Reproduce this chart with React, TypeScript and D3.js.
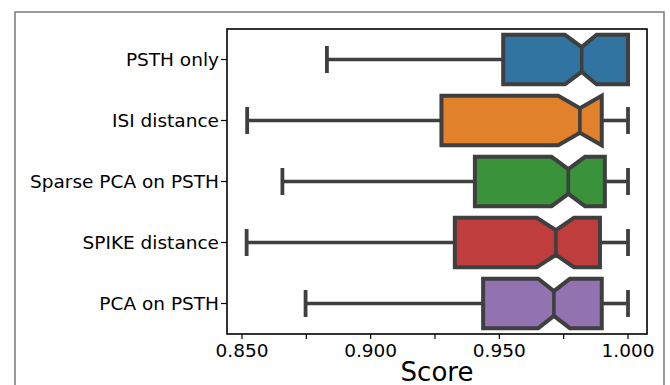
import React from "react";
import * as d3 from "d3";

const categories = ["PSTH only", "ISI distance", "Sparse PCA on PSTH", "SPIKE distance", "PCA on PSTH"];
const whiskerLow = [0.883, 0.852, 0.8657, 0.8518, 0.8747];
const q1 = [0.9515, 0.9275, 0.9405, 0.9327, 0.9437];
const median = [0.982, 0.9813, 0.9768, 0.972, 0.9712];
const q3 = [1.0, 0.9898, 0.991, 0.9891, 0.9898];
const whiskerHigh = [1.0, 1.0, 1.0, 1.0, 1.0];
const notchLow = [0.9755, 0.9729, 0.9703, 0.9645, 0.9651];
const notchHigh = [0.9878, 0.9898, 0.9833, 0.979, 0.9774];
const colors = ["#3274a1", "#e1812c", "#3a923a", "#c03d3e", "#9372b2"];
const xTicks = [0.85, 0.875, 0.9, 0.925, 0.95, 0.975, 1.0];
const xTickLabels = ["0.850", "", "0.900", "", "0.950", "", "1.000"];
const xLabel = "Score";

const W = 670, H = 385;
const left = 227, right = 647, top = 29, bottom = 334;
const edge = "#3f3f3f";
const font = "DejaVu Sans, sans-serif";

export default function App() {
  const x = d3.scaleLinear().domain([0.84417, 1.00738]).range([left, right]);
  const y = d3.scaleBand<string>().domain(categories).range([top, bottom]).paddingInner(0).paddingOuter(0);
  const bw = y.bandwidth();
  const bh = bw * 0.81;
  const inset = bh * 0.25;
  const capH = 27;

  return (
    <svg width={W} height={H} style={{ position: "absolute", left: 0, top: 0, background: "#fff" }}>
      <rect x={0} y={0} width={W} height={H} fill="#fff" />
      <path d={`M15,${H + 2} L15,12 L664,12 L664,${H + 2}`} fill="none" stroke="#7a7a7a" strokeWidth={1.5} />
      {categories.map((c, i) => {
        const cy = (y(c) ?? 0) + bw / 2;
        const t = cy - bh / 2, b = cy + bh / 2;
        const pts: [number, number][] = [
          [x(q1[i]), t], [x(notchLow[i]), t], [x(median[i]), t + inset], [x(notchHigh[i]), t], [x(q3[i]), t],
          [x(q3[i]), b], [x(notchHigh[i]), b], [x(median[i]), b - inset], [x(notchLow[i]), b], [x(q1[i]), b],
        ];
        const line = d3.line();
        return (
          <g key={c}>
            <line x1={x(whiskerLow[i])} x2={x(q1[i])} y1={cy} y2={cy} stroke={edge} strokeWidth={3.6} />
            <line x1={x(whiskerLow[i])} x2={x(whiskerLow[i])} y1={cy - capH / 2} y2={cy + capH / 2} stroke={edge} strokeWidth={3.8} />
            {whiskerHigh[i] > q3[i] && (
              <g>
                <line x1={x(q3[i])} x2={x(whiskerHigh[i])} y1={cy} y2={cy} stroke={edge} strokeWidth={3.6} />
                <line x1={x(whiskerHigh[i])} x2={x(whiskerHigh[i])} y1={cy - capH / 2} y2={cy + capH / 2} stroke={edge} strokeWidth={3.8} />
              </g>
            )}
            <path d={line(pts) + "Z"} fill={colors[i]} stroke={edge} strokeWidth={4} strokeLinejoin="miter" />
            <line x1={x(median[i])} x2={x(median[i])} y1={t + inset} y2={b - inset} stroke={edge} strokeWidth={3.6} />
            <line x1={left - 6} x2={left} y1={cy} y2={cy} stroke="#000" strokeWidth={1.2} />
            <text x={left - 8} y={cy} dy="0.36em" textAnchor="end" fontFamily={font} fontSize={18.5} fill="#000">{c}</text>
          </g>
        );
      })}
      {xTicks.map((v, i) => (
        <g key={v}>
          <line x1={x(v)} x2={x(v)} y1={bottom} y2={bottom + 5} stroke="#000" strokeWidth={1.2} />
          {xTickLabels[i] && (
            <text x={x(v)} y={356.5} textAnchor="middle" fontFamily={font} fontSize={18.5} fill="#000">{xTickLabels[i]}</text>
          )}
        </g>
      ))}
      <rect x={left} y={top} width={right - left} height={bottom - top} fill="none" stroke="#000" strokeWidth={1.6} />
      <text x={(left + right) / 2} y={381} textAnchor="middle" fontFamily={font} fontSize={26} fill="#000">{xLabel}</text>
    </svg>
  );
}
